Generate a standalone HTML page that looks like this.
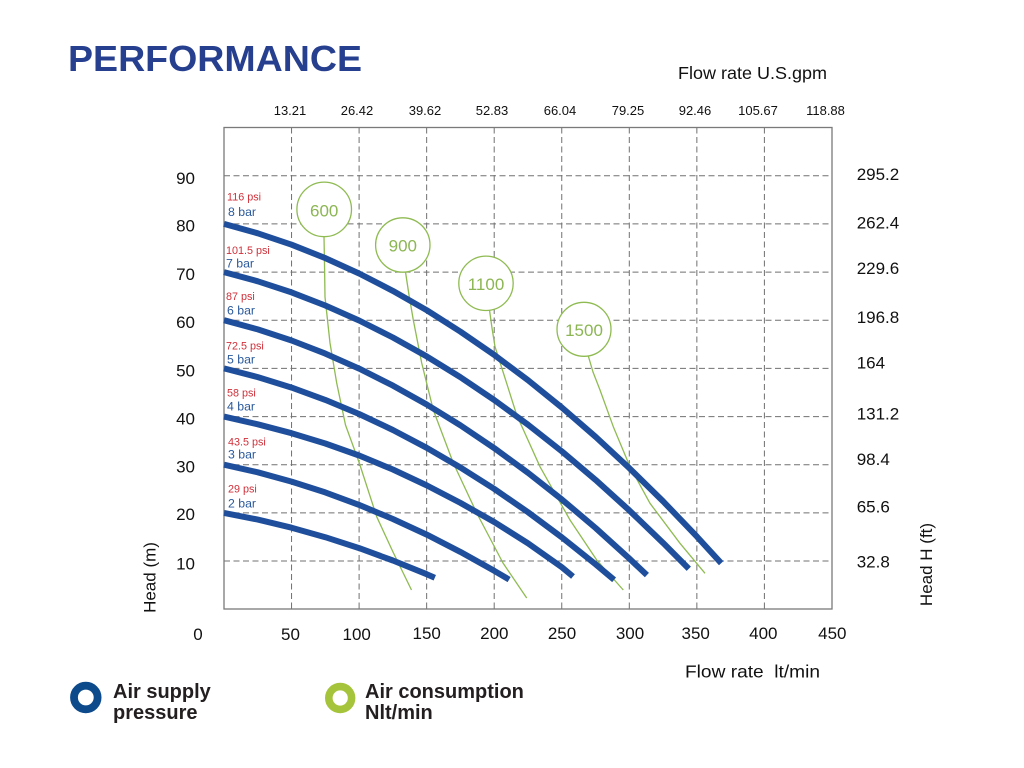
<!DOCTYPE html>
<html>
<head>
<meta charset="utf-8">
<style>
  html,body{margin:0;padding:0;background:#ffffff;}
  svg{display:block;}
  text{font-family:"Liberation Sans",Arial,sans-serif;}
</style>
</head>
<body>
<svg width="1024" height="768" viewBox="0 0 1024 768" xmlns="http://www.w3.org/2000/svg">
  <rect x="0" y="0" width="1024" height="768" fill="#ffffff"/>

  <!-- Title -->
  <text x="68" y="71" font-size="36" font-weight="bold" fill="#263f8f" textLength="294" lengthAdjust="spacingAndGlyphs">PERFORMANCE</text>

  <!-- Top axis title -->
  <text x="678" y="79" font-size="17.5" fill="#111" textLength="149" lengthAdjust="spacingAndGlyphs">Flow rate U.S.gpm</text>

  <!-- Top tick labels -->
  <g font-size="13" fill="#111" text-anchor="middle">
    <text x="290" y="115">13.21</text>
    <text x="357" y="115">26.42</text>
    <text x="425" y="115">39.62</text>
    <text x="492" y="115">52.83</text>
    <text x="560" y="115">66.04</text>
    <text x="628" y="115">79.25</text>
    <text x="695" y="115">92.46</text>
    <text x="758" y="115">105.67</text>
    <text x="825.5" y="115">118.88</text>
  </g>

  <!-- Grid -->
  <g stroke="#707070" stroke-width="1" stroke-dasharray="6 3.5" fill="none">
    <line x1="291.55" y1="127.5" x2="291.55" y2="609"/>
    <line x1="359.1" y1="127.5" x2="359.1" y2="609"/>
    <line x1="426.65" y1="127.5" x2="426.65" y2="609"/>
    <line x1="494.2" y1="127.5" x2="494.2" y2="609"/>
    <line x1="561.75" y1="127.5" x2="561.75" y2="609"/>
    <line x1="629.3" y1="127.5" x2="629.3" y2="609"/>
    <line x1="696.85" y1="127.5" x2="696.85" y2="609"/>
    <line x1="764.4" y1="127.5" x2="764.4" y2="609"/>

    <line x1="224" y1="175.8" x2="832" y2="175.8"/>
    <line x1="224" y1="223.9" x2="832" y2="223.9"/>
    <line x1="224" y1="272.1" x2="832" y2="272.1"/>
    <line x1="224" y1="320.2" x2="832" y2="320.2"/>
    <line x1="224" y1="368.4" x2="832" y2="368.4"/>
    <line x1="224" y1="416.6" x2="832" y2="416.6"/>
    <line x1="224" y1="464.7" x2="832" y2="464.7"/>
    <line x1="224" y1="512.9" x2="832" y2="512.9"/>
    <line x1="224" y1="561.0" x2="832" y2="561.0"/>
  </g>
  <rect x="224" y="127.5" width="608" height="481.5" fill="none" stroke="#7a7a7a" stroke-width="1.3"/>

  <!-- Left tick labels -->
  <g font-size="17" fill="#111" text-anchor="end">
    <text x="195" y="184">90</text>
    <text x="195" y="231.7">80</text>
    <text x="195" y="280">70</text>
    <text x="195" y="328">60</text>
    <text x="195" y="376.5">50</text>
    <text x="195" y="424.5">40</text>
    <text x="195" y="472.3">30</text>
    <text x="195" y="520">20</text>
    <text x="195" y="569.5">10</text>
  </g>

  <!-- Right tick labels -->
  <g font-size="17" fill="#111">
    <text x="856.7" y="180">295.2</text>
    <text x="856.7" y="228.3">262.4</text>
    <text x="856.7" y="274">229.6</text>
    <text x="856.7" y="323">196.8</text>
    <text x="856.7" y="368.3">164</text>
    <text x="856.7" y="419.3">131.2</text>
    <text x="856.7" y="465">98.4</text>
    <text x="856.7" y="512.7">65.6</text>
    <text x="856.7" y="567.3">32.8</text>
  </g>

  <!-- Bottom tick labels -->
  <g font-size="17" fill="#111" text-anchor="middle">
    <text x="198" y="640">0</text>
    <text x="290.5" y="640">50</text>
    <text x="356.7" y="640">100</text>
    <text x="426.7" y="639">150</text>
    <text x="494.3" y="639">200</text>
    <text x="562" y="639">250</text>
    <text x="630" y="639">300</text>
    <text x="695.7" y="639">350</text>
    <text x="763.3" y="639">400</text>
    <text x="832.3" y="639">450</text>
  </g>

  <!-- Axis titles -->
  <text x="685" y="677.3" font-size="17.5" fill="#111" textLength="135" lengthAdjust="spacingAndGlyphs" xml:space="preserve">Flow rate  lt/min</text>
  <text transform="translate(155.7,577.5) rotate(-90)" font-size="17" fill="#111" text-anchor="middle">Head (m)</text>
  <text transform="translate(932,564.5) rotate(-90)" font-size="17" fill="#111" text-anchor="middle">Head H (ft)</text>

  <!-- Air consumption lines -->
  <g fill="none" stroke="#8fbb52" stroke-width="1.3" stroke-linejoin="round">
    <polyline points="324,236.7 324.6,270 325,297 330,343 336.7,383 345.5,425 359.3,463 376.7,516.7 393,552 411.5,590"/>
    <polyline points="405.5,272 409,295 413.3,320 421.7,363 433.3,410 453.3,463 476.7,513 503,563 526.7,598"/>
    <polyline points="489.5,310 492,328 495,346.7 505,378 516.7,415 540,466.7 570,520 596.7,560 623.3,590"/>
    <polyline points="588.3,356 593,372 600,390 613.3,426.7 630,466.7 650,503.3 680,543.3 705,573.3"/>
  </g>
  <g fill="#ffffff" stroke="#8fbb52" stroke-width="1.3">
    <circle cx="324.2" cy="209.4" r="27.3"/>
    <circle cx="402.8" cy="245" r="27.2"/>
    <circle cx="486" cy="283.3" r="27.2"/>
    <circle cx="584" cy="329.3" r="27"/>
  </g>
  <g font-size="17" fill="#8cb653" text-anchor="middle">
    <text x="324.2" y="216.5">600</text>
    <text x="402.8" y="251.5">900</text>
    <text x="486" y="289.8">1100</text>
    <text x="584" y="335.8">1500</text>
  </g>

  <!-- Air supply pressure curves -->
  <g fill="none" stroke="#1f4f9c" stroke-width="6" stroke-linejoin="round" stroke-linecap="butt">
    <polyline points="224,223.9 257.8,233.3 291.6,244.7 325.3,258.1 359.1,273.5 392.9,290.9 426.7,310.2 460.4,331.6 494.2,354.9 528.0,380.2 561.8,407.5 595.6,436.8 629.3,468.1 663.1,501.3 696.9,536.6 721.2,563.2"/>
    <polyline points="224,272.1 257.8,281.3 291.6,292.4 325.3,305.5 359.1,320.5 392.9,337.5 426.7,356.4 460.4,377.2 494.2,400.0 528.0,424.7 561.8,451.3 595.6,479.9 629.3,510.4 663.1,542.9 688.8,568.8"/>
    <polyline points="224,320.2 257.8,329.4 291.6,340.5 325.3,353.6 359.1,368.6 392.9,385.6 426.7,404.5 460.4,425.3 494.2,448.1 528.0,472.8 561.8,499.4 595.6,528.0 629.3,558.5 646.9,575.1"/>
    <polyline points="224,368.4 257.8,377.1 291.6,387.6 325.3,399.9 359.1,414.0 392.9,430.0 426.7,447.8 460.4,467.5 494.2,488.9 528.0,512.2 561.8,537.3 595.6,564.3 614.1,579.8"/>
    <polyline points="224,416.6 257.8,424.3 291.6,433.2 325.3,443.5 359.1,455.5 392.9,469.5 426.7,485.4 460.4,502.9 494.2,522.0 528.0,543.3 561.8,567.2 573,576.5"/>
    <polyline points="224,464.7 257.8,472.3 291.6,481.6 325.3,492.4 359.1,504.9 392.9,519.0 426.7,534.6 460.4,551.9 494.2,570.8 509.1,579.6"/>
    <polyline points="224,512.9 257.8,519.6 291.6,527.7 325.3,537.2 359.1,548.1 392.9,560.5 426.7,574.2 434.8,577.7"/>
  </g>

  <!-- Pressure labels -->
  <g font-size="10.8" fill="#d0303a">
    <text x="227" y="200.7">116 psi</text>
    <text x="226" y="254">101.5 psi</text>
    <text x="226" y="300">87 psi</text>
    <text x="226" y="349.3">72.5 psi</text>
    <text x="227" y="396.7">58 psi</text>
    <text x="228" y="445.7">43.5 psi</text>
    <text x="228" y="492.7">29 psi</text>
  </g>
  <g font-size="12.3" fill="#2b5a9c">
    <text x="228" y="216">8 bar</text>
    <text x="226" y="267.3">7 bar</text>
    <text x="227" y="314.3">6 bar</text>
    <text x="227" y="363.3">5 bar</text>
    <text x="227" y="410.7">4 bar</text>
    <text x="228" y="458.3">3 bar</text>
    <text x="228" y="507.3">2 bar</text>
  </g>

  <!-- Legend -->
  <circle cx="85.8" cy="697.5" r="11.8" fill="none" stroke="#0c4a8c" stroke-width="7.8"/>
  <circle cx="340.2" cy="698" r="11.4" fill="none" stroke="#a6c43b" stroke-width="7.6"/>
  <g font-size="20" font-weight="bold" fill="#231f20">
    <text x="113" y="698">Air supply</text>
    <text x="113" y="719">pressure</text>
    <text x="365" y="698">Air consumption</text>
    <text x="365" y="719">Nlt/min</text>
  </g>
</svg>
</body>
</html>
